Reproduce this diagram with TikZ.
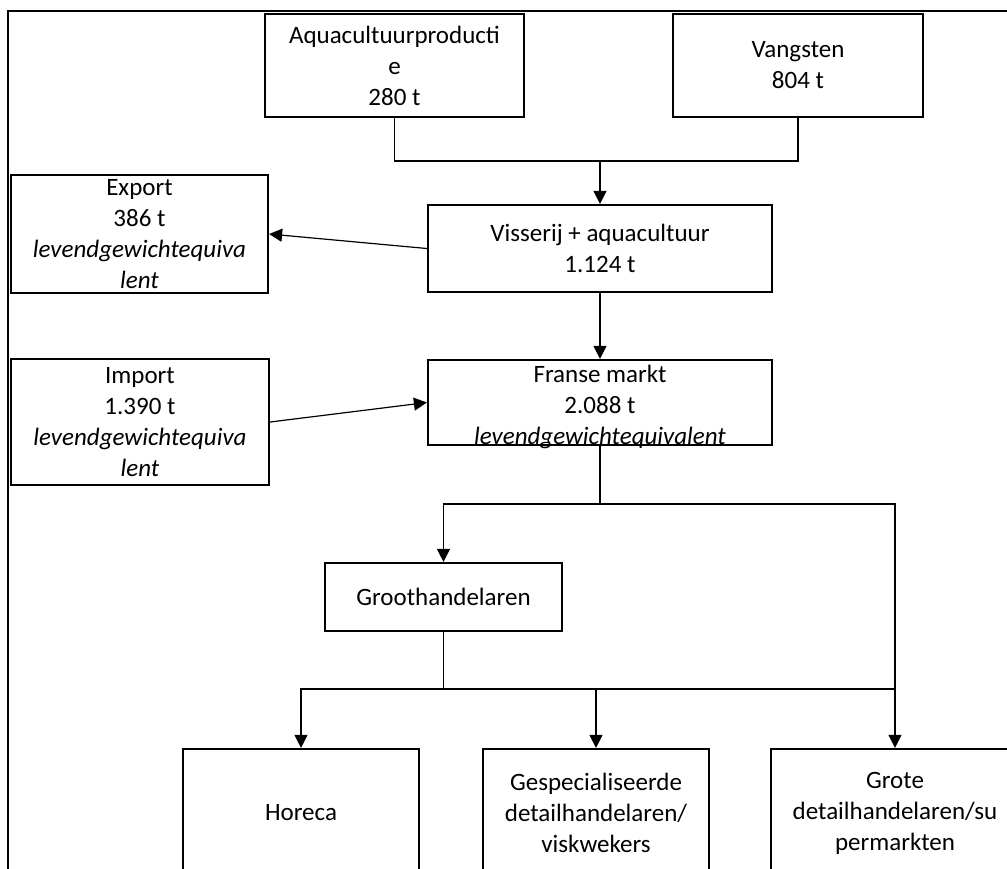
\documentclass[tikz,border=0pt]{standalone}
\usepackage{fontspec}
\setmainfont{Carlito}
\usetikzlibrary{arrows.meta, positioning}

\begin{document}
\begin{tikzpicture}[x=1pt, y=-1pt]
\tikzstyle{box}=[rectangle, draw=black, line width=2.2pt, align=center, inner sep=0pt, font=\fontsize{25}{31}\selectfont]
\tikzstyle{txt}=[align=center, inner sep=0pt, font=\fontsize{25}{31}\selectfont]
\tikzstyle{connect}=[-, line width=1.2pt]
\tikzstyle{flow}=[-{Triangle[length=13pt, width=13pt]}, line width=1.2pt]
\clip (0,0) rectangle (1007,868);
\draw[line width=1.8pt] (8,11) rectangle (1030,890);
% sources
\node[box, minimum width=259pt, minimum height=103pt] (aqua) at (394.5,65.5) {Aquacultuurproducti\\e\\280 t};
\node[box, minimum width=250pt, minimum height=103pt] (vang) at (798,65.5) {Vangsten\\804 t};
\node[box, minimum width=344pt, minimum height=87pt] (vis) at (600,248.5) {Visserij + aquacultuur\\1.124 t};
\node[box, minimum width=257pt, minimum height=118pt] (export) at (139.5,234) {Export\\386 t\\\textit{levendgewichtequiva}\\\textit{lent}};
\node[box, minimum width=258pt, minimum height=126pt] (import) at (140,422) {Import\\1.390 t\\\textit{levendgewichtequiva}\\\textit{lent}};
\node[box, minimum width=344pt, minimum height=85pt] (franse) at (600,402.5) {};
\node[txt, anchor=north] (fransetext) at (600,365) {Franse markt\\2.088 t\\\textit{levendgewichtequivalent}};
% distribution
\node[box, minimum width=237pt, minimum height=68pt] (groot) at (443.5,597) {Groothandelaren};
\node[box, minimum width=236pt, minimum height=128pt] (horeca) at (301,813) {Horeca};
\node[box, minimum width=226pt, minimum height=128pt] (gesp) at (596,813) {Gespecialiseerde\\detailhandelaren/\\viskwekers};
\node[box, minimum width=248pt, minimum height=128pt] (grote) at (895,813) {Grote\\detailhandelaren/su\\permarkten};
% connectors
\coordinate (topjoin) at (600,161);
\draw[connect] (aqua.south) |- (topjoin) -| (vang.south);
\draw[flow] (topjoin) -- (vis.north);
\draw[flow] (vis.west) -- (export.east);
\draw[flow] (import.east) -- (franse.west);
\draw[flow] (vis.south) -- (franse.north);
\coordinate (split) at (600,504);
\draw[connect] (franse.south) -- (split);
\draw[flow] (split) -| (groot.north);
\draw[flow] (split) -| (grote.north);
\coordinate (split2) at (443.5,689);
\draw[connect] (groot.south) -- (split2);
\draw[flow] (split2) -| (horeca.north);
\draw[flow] (split2) -| (gesp.north);
\draw[connect] (split2) -- (grote.north |- split2);
\end{tikzpicture}
\end{document}
